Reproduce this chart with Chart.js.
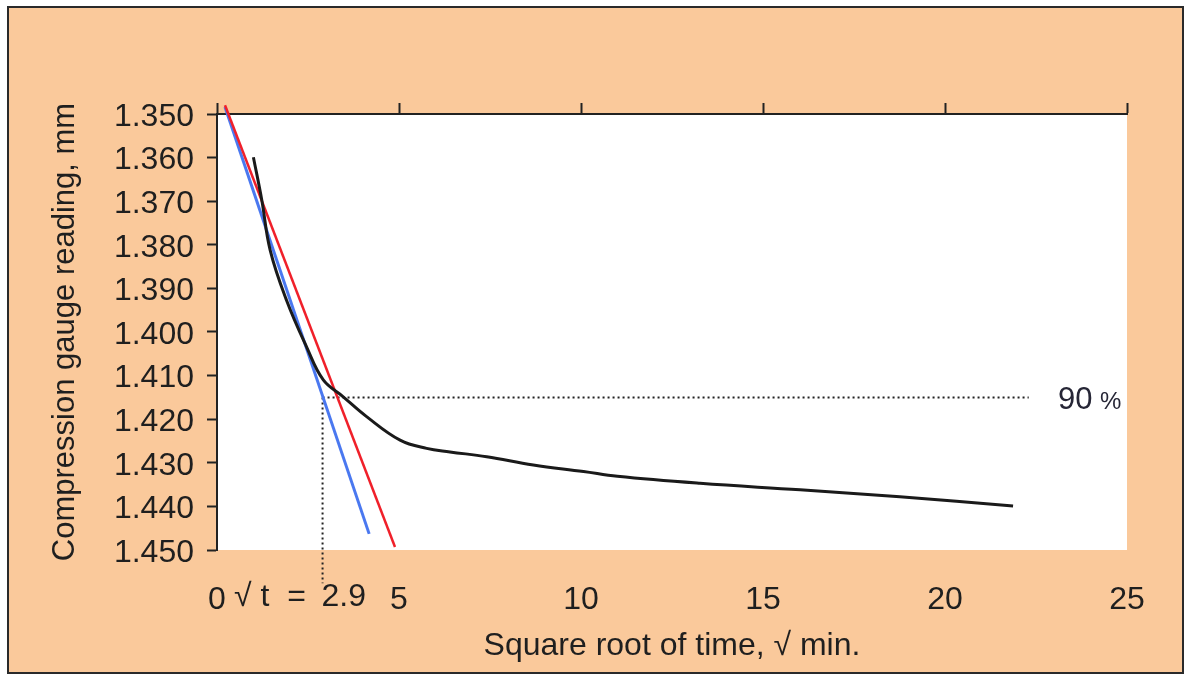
<!DOCTYPE html>
<html>
<head>
<meta charset="utf-8">
<title>Square root of time fitting</title>
<script src="https://cdn.jsdelivr.net/npm/chart.js@4/dist/chart.umd.min.js"></script>
<style>
  body { margin: 0; background: #ffffff; }
  #rootTimeChart { display: block; }
</style>
</head>
<body>
<canvas id="rootTimeChart" width="1188" height="675"></canvas>
<script>
// Gauge readings (mm) against square root of time (√min)
const curveRoot = [1.00, 1.23, 1.46, 1.91, 2.46, 2.92, 3.46, 4.11, 5.03, 5.76, 6.40, 7.41, 8.69, 10.07, 11.00, 13.27, 16.02, 18.76, 21.87];
const curveReading = [1.3599, 1.3697, 1.3812, 1.3927, 1.4034, 1.4110, 1.4148, 1.4194, 1.4248, 1.4267, 1.4275, 1.4286, 1.4305, 1.4320, 1.4331, 1.4347, 1.4362, 1.4378, 1.4399];

// Initial straight-line fit and the 1.15x slope line
const blueRoot = [0.22, 4.18];
const blueReading = [1.3484, 1.4463];
const redRoot = [0.22, 4.89];
const redReading = [1.3480, 1.4493];

// 90 % consolidation construction
const T90 = 2.9;
const READING_90 = 1.415;
const guideEndRoot = 22.3;
const guideBottomReading = 1.4576;

const xTicks = [0, 5, 10, 15, 20, 25];
const yMin = 1.350, yMax = 1.450, yStep = 0.010;

const PEACH = "#fac99b";
const INK = "#1f1f1f";
const FONT = "'Liberation Sans', Arial, sans-serif";

const toPoints = (xs, ys) => xs.map((x, i) => ({ x: x, y: ys[i] }));

// frame, peach panel and white plot area
const framePlugin = {
  id: "frame",
  beforeDraw(chart) {
    const { ctx, chartArea } = chart;
    ctx.save();
    ctx.fillStyle = "#ffffff";
    ctx.fillRect(0, 0, chart.width, chart.height);
    ctx.fillStyle = PEACH;
    ctx.fillRect(8, 7, 1175, 666);
    ctx.strokeStyle = "#2a2a2a";
    ctx.lineWidth = 2;
    ctx.strokeRect(8, 7, 1175, 666);
    ctx.fillStyle = "#ffffff";
    ctx.fillRect(chartArea.left, chartArea.top,
      chartArea.right - chartArea.left, chartArea.bottom - chartArea.top);
    ctx.restore();
  },
  afterDraw(chart) {
    const { ctx, scales } = chart;
    ctx.save();
    ctx.fillStyle = INK;
    ctx.textBaseline = "top";
    ctx.textAlign = "left";
    ctx.font = "32px " + FONT;
    const labelTop = scales.x.top + 31;
    ctx.fillText("\u221A t  =", 234, labelTop);
    ctx.fillText(T90.toFixed(1), scales.x.getPixelForValue(T90) - 1, labelTop);

    // 90 % label at the end of the horizontal guide
    const y90 = scales.y.getPixelForValue(READING_90);
    ctx.textBaseline = "alphabetic";
    ctx.font = "31px " + FONT;
    ctx.fillStyle = "#262636";
    ctx.fillText("90", 1058, y90 + 12);
    ctx.font = "24px " + FONT;
    ctx.fillText("%", 1100, y90 + 12);
    ctx.restore();
  }
};

new Chart(document.getElementById("rootTimeChart"), {
  type: "line",
  data: {
    datasets: [
      {
        label: "Reading",
        data: toPoints(curveRoot, curveReading),
        borderColor: "#1a1a1a",
        borderWidth: 3,
        tension: 0.4,
        pointRadius: 0,
        order: 1
      },
      {
        label: "Initial slope",
        data: toPoints(blueRoot, blueReading),
        borderColor: "#4a78f0",
        borderWidth: 3,
        pointRadius: 0,
        clip: false,
        order: 3
      },
      {
        label: "1.15 x slope",
        data: toPoints(redRoot, redReading),
        borderColor: "#f0202a",
        borderWidth: 2.5,
        pointRadius: 0,
        clip: false,
        order: 2
      },
      {
        label: "90 % horizontal",
        data: [{ x: T90, y: READING_90 }, { x: guideEndRoot, y: READING_90 }],
        borderColor: "#222222",
        borderWidth: 2,
        borderDash: [2, 3],
        pointRadius: 0,
        order: 4
      },
      {
        label: "90 % vertical",
        data: [{ x: T90, y: READING_90 }, { x: T90, y: guideBottomReading }],
        borderColor: "#222222",
        borderWidth: 2,
        borderDash: [2, 3],
        pointRadius: 0,
        clip: false,
        order: 4
      }
    ]
  },
  options: {
    responsive: false,
    animation: false,
    events: [],
    layout: { padding: { left: 0, top: 0, right: 61, bottom: 0 } },
    plugins: {
      legend: { display: false },
      tooltip: { enabled: false }
    },
    scales: {
      x: {
        type: "linear",
        position: "bottom",
        min: 0,
        max: 25,
        afterBuildTicks: (scale) => { scale.ticks = xTicks.map((v) => ({ value: v })); },
        afterFit: (scale) => { scale.height = 125; },
        grid: { display: false, drawTicks: false },
        border: { display: false },
        ticks: {
          padding: 31,
          color: INK,
          font: { family: FONT, size: 32 }
        },
        title: {
          display: true,
          text: "Square root of time, \u221A min.",
          color: INK,
          font: { family: FONT, size: 32 },
          padding: { top: 0, bottom: 10 }
        }
      },
      xTop: {
        type: "linear",
        position: "top",
        min: 0,
        max: 25,
        afterBuildTicks: (scale) => { scale.ticks = xTicks.map((v) => ({ value: v })); },
        afterFit: (scale) => { scale.height = 114; },
        grid: {
          drawOnChartArea: false,
          drawTicks: true,
          tickLength: 11,
          tickWidth: 2,
          tickColor: "#222222"
        },
        border: { display: true, color: "#222222", width: 2 },
        ticks: { display: false }
      },
      y: {
        type: "linear",
        position: "left",
        reverse: true,
        min: yMin,
        max: yMax,
        afterFit: (scale) => { scale.width = 217; },
        grid: {
          drawOnChartArea: false,
          drawTicks: true,
          tickLength: 10,
          tickWidth: 2,
          tickColor: "#222222"
        },
        border: { display: true, color: "#222222", width: 2 },
        ticks: {
          stepSize: yStep,
          padding: 13,
          labelOffset: 3,
          color: INK,
          font: { family: FONT, size: 32 },
          callback: (value) => value.toFixed(3)
        },
        title: {
          display: true,
          text: "Compression gauge reading, mm",
          color: INK,
          font: { family: FONT, size: 31 },
          padding: { top: 47, bottom: 0 }
        }
      }
    }
  },
  plugins: [framePlugin]
});
</script>
</body>
</html>
